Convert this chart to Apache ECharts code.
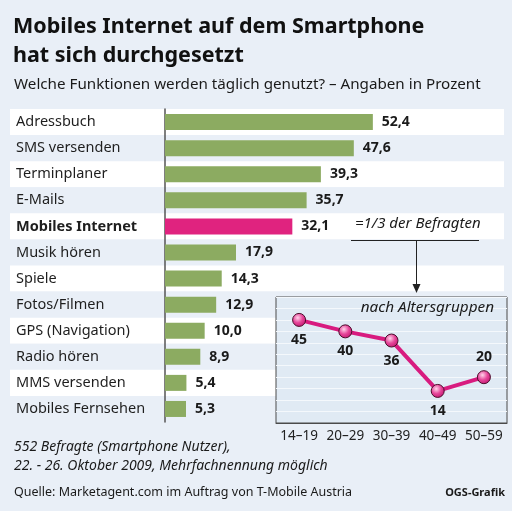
<!DOCTYPE html>
<html>
<head>
<meta charset="utf-8">
<script src="https://cdn.jsdelivr.net/npm/echarts@6/dist/echarts.min.js"></script>
<style>
  html, body { margin: 0; padding: 0; background: #e9eff7; }
  #chart { width: 512px; height: 511px; }
</style>
</head>
<body>
<div id="chart"></div>
<script>
// Funktionen, taeglich genutzt (Prozent)
const categories = ['Adressbuch', 'SMS versenden', 'Terminplaner', 'E-Mails', 'Mobiles Internet',
  'Musik hören', 'Spiele', 'Fotos/Filmen', 'GPS (Navigation)', 'Radio hören', 'MMS versenden', 'Mobiles Fernsehen'];
const values = [52.4, 47.6, 39.3, 35.7, 32.1, 17.9, 14.3, 12.9, 10.0, 8.9, 5.4, 5.3];
const highlight = 'Mobiles Internet';

// Mobiles Internet nach Altersgruppen
const ageGroups = ['14–19', '20–29', '30–39', '40–49', '50–59'];
const ageValues = [45, 40, 36, 14, 20];

const font = 'Noto Sans';
const green = '#8cab61';
const pink = '#e0237f';

let chart = echarts.init(document.getElementById('chart'));

const option = {
  backgroundColor: '#e9eff7',
  textStyle: { fontFamily: font },
  grid: [
    { left: 10, top: 109, width: 494, height: 313 },
    { left: 165, top: 109, width: 238, height: 313 },
    { left: 276, top: 297, width: 231, height: 126, show: true, backgroundColor: '#e0eaf4',
      borderColor: '#4a4a4a', borderWidth: 1, z: 3 }
  ],
  xAxis: [
    { gridIndex: 0, type: 'value', show: false, min: 0, max: 1 },
    { gridIndex: 1, type: 'value', show: false, min: 0, max: 60 },
    { gridIndex: 2, type: 'category', data: ageGroups, z: 4,
      axisLine: { lineStyle: { color: '#4a4a4a', width: 1 } },
      axisTick: { length: 9, interval: 0, lineStyle: { color: '#4a4a4a' } },
      axisLabel: { interval: 0, hideOverlap: false, margin: 6, fontSize: 13.5, color: '#222', fontFamily: font } }
  ],
  yAxis: [
    { gridIndex: 0, type: 'category', data: categories, inverse: true,
      axisLine: { show: false }, axisTick: { show: false },
      splitArea: { show: true, interval: 0, areaStyle: { color: ['#ffffff', '#e9eff7'] } },
      axisLabel: {
        inside: true, interval: 0, margin: 6, fontSize: 14.5, color: '#1e1e1e',
        formatter: v => v === highlight ? '{b|' + v + '}' : v,
        rich: { b: { fontWeight: 'bold', fontSize: 14.5, color: '#1e1e1e', fontFamily: font } }
      } },
    { gridIndex: 1, type: 'category', data: categories, inverse: true,
      axisLine: { lineStyle: { color: '#555', width: 1.5 } },
      axisTick: { show: false }, axisLabel: { show: false } },
    { gridIndex: 2, type: 'value', min: 0, max: 55, interval: 5, z: 4,
      axisLine: { show: false }, axisTick: { show: false }, axisLabel: { show: false },
      splitLine: { lineStyle: { color: '#f4f8fc', width: 1 } } }
  ],
  series: [
    {
      type: 'bar', xAxisIndex: 1, yAxisIndex: 1, barWidth: 16,
      data: values.map((v, i) => ({
        value: v,
        itemStyle: { color: categories[i] === highlight ? pink : green }
      })),
      label: {
        show: true, position: 'right', distance: 9,
        fontSize: 14, fontWeight: 'bold', color: '#1a1a1a', fontFamily: font,
        formatter: p => p.value.toFixed(1).replace('.', ',')
      }
    },
    {
      type: 'line', xAxisIndex: 2, yAxisIndex: 2, z: 6,
      data: ageValues.map((v, i) => ({
        value: v,
        label: { position: i === ageValues.length - 1 ? 'top' : 'bottom' }
      })),
      lineStyle: { color: '#d81b7f', width: 4 },
      symbol: 'circle', symbolSize: 13,
      itemStyle: {
        color: new echarts.graphic.RadialGradient(0.4, 0.35, 0.7, [
          { offset: 0, color: '#ffd3ea' },
          { offset: 0.5, color: '#e6479a' },
          { offset: 1, color: '#c0126e' }
        ]),
        borderColor: '#4a0d2a', borderWidth: 1
      },
      label: { show: true, distance: 6, fontSize: 14, fontWeight: 'bold', color: '#1a1a1a', fontFamily: font }
    }
  ],
  graphic: [
    { type: 'text', left: 13, top: 12, style: { text: 'Mobiles Internet auf dem Smartphone\nhat sich durchgesetzt',
      font: 'bold 21.5px "Noto Sans"', lineHeight: 29, fill: '#111' } },
    { type: 'text', left: 14, top: 77, style: { text: 'Welche Funktionen werden täglich genutzt? – Angaben in Prozent',
      font: '15.2px "Noto Sans"', fill: '#1a1a1a' } },
    { type: 'text', left: 355, top: 216, z: 10, style: { text: '=1/3 der Befragten',
      font: 'italic 15px "Noto Sans"', fill: '#1a1a1a' } },
    { type: 'line', z: 10, shape: { x1: 351, y1: 240.5, x2: 479, y2: 240.5 }, style: { stroke: '#222', lineWidth: 1 } },
    { type: 'line', z: 10, shape: { x1: 416.5, y1: 241, x2: 416.5, y2: 287 }, style: { stroke: '#222', lineWidth: 1 } },
    { type: 'polygon', z: 10, shape: { points: [[412.5, 284], [420.5, 284], [416.5, 293]] }, style: { fill: '#222' } },
    { type: 'text', right: 18, top: 300, z: 10, style: { text: 'nach Altersgruppen',
      font: 'italic 15.3px "Noto Sans"', fill: '#1a1a1a' } },
    { type: 'text', left: 14, top: 438, style: { text: '552 Befragte (Smartphone Nutzer),\n22. - 26. Oktober 2009, Mehrfachnennung möglich',
      font: 'italic 14px "Noto Sans"', lineHeight: 19, fill: '#1a1a1a' } },
    { type: 'text', left: 14, top: 486, style: { text: 'Quelle: Marketagent.com im Auftrag von T-Mobile Austria',
      font: '12.5px "Noto Sans"', fill: '#1a1a1a' } },
    { type: 'text', right: 7, top: 487, style: { text: 'OGS-Grafik',
      font: 'bold 11px "Noto Sans"', fill: '#1a1a1a' } }
  ]
};

chart.setOption(option);
</script>
</body>
</html>
